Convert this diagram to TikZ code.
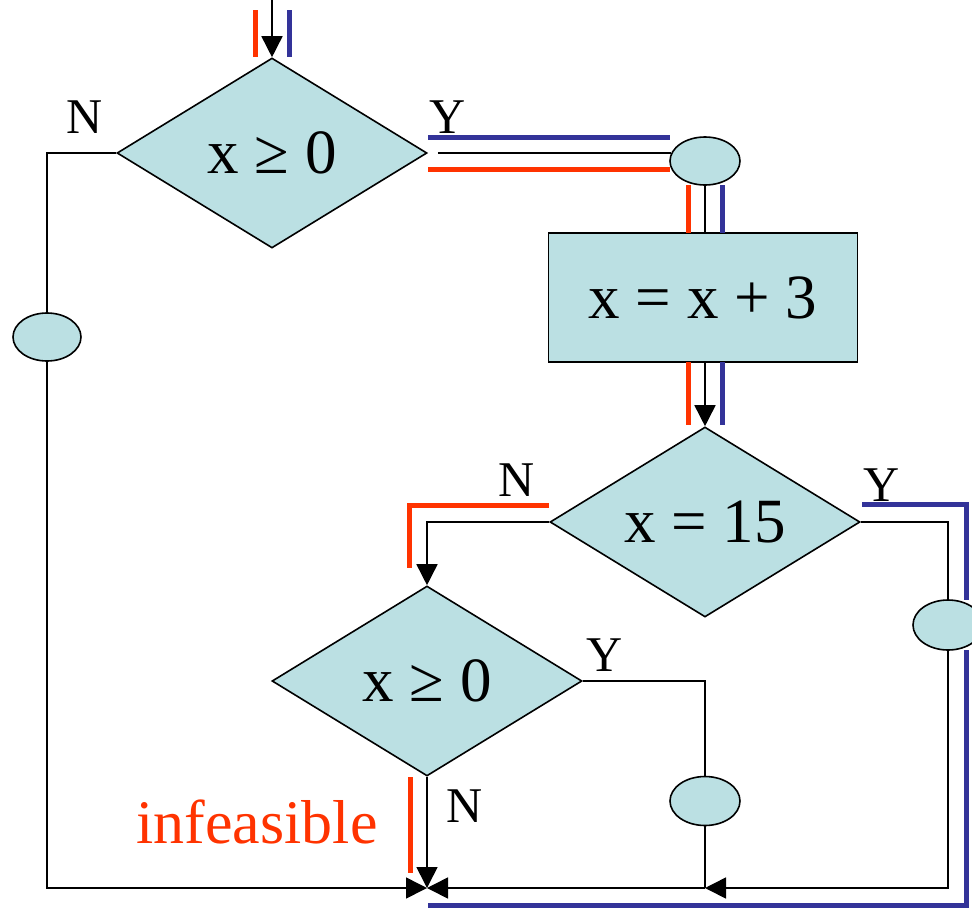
\documentclass[tikz,border=0pt]{standalone}
\usepackage{fontspec}
\setmainfont{Liberation Serif}
\usetikzlibrary{shapes.geometric,arrows.meta}
\definecolor{boxfill}{RGB}{187,224,227}
\definecolor{pathred}{RGB}{255,51,0}
\definecolor{pathblue}{RGB}{51,51,153}
\tikzset{
  conn/.style={draw=black,line width=1.6pt},
  arr/.style={conn,-{Triangle[length=21pt,width=21pt]}},
  decision/.style={diamond,draw=black,line width=1.6pt,fill=boxfill,inner sep=0pt,aspect=1.63,minimum width=310pt,minimum height=190pt,font=\fontsize{63}{70}\selectfont},
  action/.style={rectangle,draw=black,line width=1.6pt,fill=boxfill,inner sep=0pt,minimum width=309pt,minimum height=129pt,font=\fontsize{63}{70}\selectfont},
  junction/.style={ellipse,draw=black,line width=1.6pt,fill=boxfill,inner sep=0pt,minimum width=70pt,minimum height=48pt},
  lbl/.style={font=\fontsize{50}{56}\selectfont,anchor=base},
  redpath/.style={draw=pathred,line width=5pt},
  bluepath/.style={draw=pathblue,line width=5pt}
}
\begin{document}
\begin{tikzpicture}[x=1pt,y=-1pt]
\useasboundingbox (0,0) rectangle (972,908);

% nodes
\node[decision] (d1) at (272,153) {x ≥ 0};
\node[junction] (e1) at (705,161) {};
\node[action] (r) at (703,297.5) {x = x + 3};
\node[decision] (d2) at (705,522) {x = 15};
\node[decision] (d3) at (427,681) {x ≥ 0};
\node[junction,minimum width=68pt] (e0) at (47,337) {};
\node[junction,minimum height=50pt] (e3) at (948,625) {};
\node[junction,minimum height=49pt] (e4) at (705,801) {};

\coordinate (top) at (272,0);
\coordinate (jm) at (427,888);
\coordinate (jr) at (705,888);

% labels
\node[lbl] (n1) at (85,133) {N};
\node[lbl] (y1) at (448,133) {Y};
\node[lbl] (n2) at (517,496) {N};
\node[lbl] (y2) at (882,501) {Y};
\node[lbl] (y3) at (605,671) {Y};
\node[lbl] (n3) at (465,822) {N};
\node[anchor=base,text=pathred,font=\fontsize{62}{68}\selectfont] (inf) at (257,843) {infeasible};

% black connectors
\draw[arr] (top) -- (d1.north);
\draw[conn] (d1.west) -| (e0.north);
\draw[arr] (e0.south) |- (jm);
\draw[conn,shorten <=10pt] (d1.east) -- ([xshift=2pt]e1.west |- d1.east);
\draw[conn] (e1.south) -- (e1.south |- r.north);
\draw[arr] (r.south -| d2.north) -- (d2.north);
\draw[arr] (d2.west) -| (d3.north);
\draw[conn] (d2.east) -| (e3.north);
\draw[arr] (e3.south) |- (jr);
\draw[conn] (d3.east) -| (e4.north);
\draw[conn] (e4.south) -- (jr);
\draw[arr] (jr) -- (jm);
\draw[arr] (d3.south) -- (jm);

% coloured path markers
\draw[redpath] (255,10) -- (255,57);
\draw[bluepath] (289,10) -- (289,57);
\draw[bluepath] (428,137) -- (670,137);
\draw[redpath] (428,169) -- (670,169);
\draw[redpath] (688,185) -- (688,233);
\draw[bluepath] (722,185) -- (722,233);
\draw[redpath] (688,362) -- (688,425);
\draw[bluepath] (722,362) -- (722,425);
\draw[redpath] (549,505) -- (409,505) -- (409,568);
\draw[bluepath] (862,504) -- (966,504) -- (966,600);
\draw[bluepath] (966,650) -- (966,905) -- (428,905);
\draw[redpath] (410,777) -- (410,873);
\end{tikzpicture}
\end{document}
